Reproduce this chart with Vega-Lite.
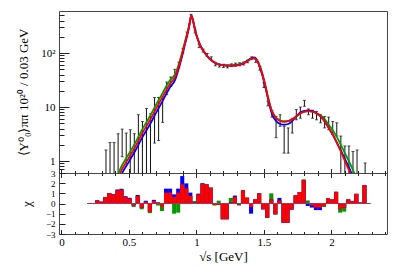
{
  "$schema": "https://vega.github.io/schema/vega-lite/v6.json",
  "padding": {"left": 17, "top": 8, "right": 5, "bottom": 2},
  "bounds": "flush",
  "spacing": 0,
  "config": {
    "font": "Liberation Serif",
    "view": {"stroke": "#444", "strokeWidth": 1},
    "axis": {"domain": false, "grid": false, "tickColor": "#222", "tickWidth": 1, "labelFont": "Liberation Serif", "labelFontSize": 11, "labelColor": "#000", "titleFont": "Liberation Serif", "titleFontSize": 13, "titleFontWeight": "normal", "titleColor": "#000", "labelOverlap": false}
  },
  "datasets": {
    "pts": [
      {"m": 0.33, "lo": 0.3, "hi": 1.6}, {"m": 0.36, "lo": 0.3, "hi": 2.2}, {"m": 0.39, "lo": 0.3, "hi": 2.2},
      {"m": 0.42, "lo": 0.3, "hi": 3.2}, {"m": 0.45, "lo": 1.2, "hi": 3.9}, {"m": 0.48, "lo": 0.9, "hi": 3.3},
      {"m": 0.51, "lo": 0.3, "hi": 3.8}, {"m": 0.54, "lo": 0.3, "hi": 3.2}, {"m": 0.57, "lo": 0.3, "hi": 7.2},
      {"m": 0.60, "lo": 0.3, "hi": 5.4}, {"m": 0.63, "lo": 0.3, "hi": 9.4}, {"m": 0.66, "lo": 0.3, "hi": 7.5},
      {"m": 0.69, "lo": 2.15, "hi": 15}, {"m": 0.72, "lo": 2.4, "hi": 15}, {"m": 0.75, "lo": 5.2, "hi": 15.5},
      {"m": 0.78, "lo": 17, "hi": 29}, {"m": 0.81, "lo": 24, "hi": 36}, {"m": 0.84, "lo": 38, "hi": 50},
      {"m": 0.87, "lo": 55, "hi": 68}, {"m": 0.90, "lo": 100, "hi": 122}, {"m": 0.93, "lo": 205, "hi": 245},
      {"m": 0.96, "lo": 460, "hi": 520}, {"m": 0.99, "lo": 235, "hi": 268}, {"m": 1.02, "lo": 126, "hi": 146},
      {"m": 1.05, "lo": 104, "hi": 118}, {"m": 1.08, "lo": 86, "hi": 98}, {"m": 1.11, "lo": 75, "hi": 85},
      {"m": 1.14, "lo": 58, "hi": 65}, {"m": 1.17, "lo": 55, "hi": 63}, {"m": 1.20, "lo": 54, "hi": 62},
      {"m": 1.23, "lo": 53, "hi": 60}, {"m": 1.26, "lo": 56, "hi": 63}, {"m": 1.29, "lo": 57, "hi": 65},
      {"m": 1.32, "lo": 58, "hi": 66}, {"m": 1.35, "lo": 60, "hi": 68}, {"m": 1.38, "lo": 66, "hi": 74},
      {"m": 1.41, "lo": 76, "hi": 85}, {"m": 1.44, "lo": 67, "hi": 76}, {"m": 1.47, "lo": 48, "hi": 56},
      {"m": 1.50, "lo": 23, "hi": 28}, {"m": 1.53, "lo": 10.5, "hi": 12.8}, {"m": 1.56, "lo": 6.5, "hi": 8.5},
      {"m": 1.59, "lo": 2.7, "hi": 6.7}, {"m": 1.62, "lo": 4.4, "hi": 7.2}, {"m": 1.65, "lo": 1.4, "hi": 4.4},
      {"m": 1.68, "lo": 1.4, "hi": 4.1}, {"m": 1.71, "lo": 3.3, "hi": 6.2}, {"m": 1.74, "lo": 5.8, "hi": 9.0},
      {"m": 1.77, "lo": 6.2, "hi": 10}, {"m": 1.80, "lo": 10.3, "hi": 13.3}, {"m": 1.83, "lo": 7.2, "hi": 9.2},
      {"m": 1.86, "lo": 6.2, "hi": 8.7}, {"m": 1.89, "lo": 5.8, "hi": 8.3}, {"m": 1.92, "lo": 5.1, "hi": 7.2},
      {"m": 1.95, "lo": 4.1, "hi": 6.7}, {"m": 1.98, "lo": 3.8, "hi": 6.5}, {"m": 2.01, "lo": 3.1, "hi": 5.4},
      {"m": 2.04, "lo": 2.9, "hi": 5.1}, {"m": 2.07, "lo": 0.3, "hi": 2.9}, {"m": 2.10, "lo": 0.3, "hi": 1.9},
      {"m": 2.13, "lo": 0.3, "hi": 1.9}, {"m": 2.16, "lo": 0.3, "hi": 1.5}, {"m": 2.19, "lo": 0.3, "hi": 1.6},
      {"m": 2.25, "lo": 0.3, "hi": 0.92}
    ],
    "curves": [
      {"m": 0.40, "r": 0.35, "g": 0.41, "b": 0.29}, {"m": 0.435, "r": 0.6, "g": 0.71, "b": 0.50},
      {"m": 0.50, "r": 1.15, "g": 1.36, "b": 0.97}, {"m": 0.55, "r": 1.9, "g": 2.24, "b": 1.6},
      {"m": 0.60, "r": 3.3, "g": 3.9, "b": 2.77}, {"m": 0.65, "r": 5.4, "g": 6.4, "b": 4.5},
      {"m": 0.70, "r": 9.2, "g": 10.9, "b": 7.7}, {"m": 0.75, "r": 15.5, "g": 18.3, "b": 13.0},
      {"m": 0.80, "r": 26, "g": 30.2, "b": 22.2}, {"m": 0.844, "r": 37, "g": 41.4, "b": 32.6},
      {"m": 0.88, "r": 70, "g": 76.3, "b": 63.7}, {"m": 0.918, "r": 164, "g": 172, "b": 154},
      {"m": 0.943, "r": 290, "g": 300, "b": 280}, {"m": 0.955, "r": 420, "g": 425, "b": 410},
      {"m": 0.962, "r": 500, "g": 500, "b": 495}, {"m": 0.975, "r": 400, "g": 400, "b": 400},
      {"m": 0.987, "r": 290, "g": 290, "b": 290}, {"m": 1.00, "r": 215, "g": 215, "b": 215},
      {"m": 1.016, "r": 164, "g": 164, "b": 164}, {"m": 1.03, "r": 135, "g": 135, "b": 135},
      {"m": 1.054, "r": 108, "g": 108, "b": 108}, {"m": 1.08, "r": 88, "g": 88, "b": 88},
      {"m": 1.10, "r": 77, "g": 77, "b": 77}, {"m": 1.13, "r": 68, "g": 68, "b": 68},
      {"m": 1.16, "r": 62, "g": 62, "b": 62}, {"m": 1.20, "r": 59.5, "g": 59.5, "b": 59.5},
      {"m": 1.23, "r": 58.5, "g": 58.8, "b": 58.5}, {"m": 1.26, "r": 58.5, "g": 59.5, "b": 58.5},
      {"m": 1.29, "r": 59, "g": 60.8, "b": 59}, {"m": 1.32, "r": 60.5, "g": 62.3, "b": 60.5},
      {"m": 1.35, "r": 64, "g": 65.9, "b": 64.5}, {"m": 1.38, "r": 71, "g": 73.1, "b": 72},
      {"m": 1.41, "r": 79, "g": 79.5, "b": 81.4}, {"m": 1.43, "r": 80.5, "g": 80.5, "b": 83},
      {"m": 1.45, "r": 72, "g": 73, "b": 73}, {"m": 1.47, "r": 56, "g": 58.2, "b": 54.3},
      {"m": 1.49, "r": 39, "g": 40.6, "b": 37.4}, {"m": 1.51, "r": 25, "g": 26, "b": 23.8},
      {"m": 1.53, "r": 15, "g": 15.6, "b": 14.3}, {"m": 1.56, "r": 8.2, "g": 8.5, "b": 7.4},
      {"m": 1.59, "r": 6.2, "g": 6.4, "b": 5.5}, {"m": 1.62, "r": 5.5, "g": 5.7, "b": 4.85},
      {"m": 1.65, "r": 5.3, "g": 5.45, "b": 4.7}, {"m": 1.68, "r": 5.5, "g": 5.5, "b": 4.85},
      {"m": 1.71, "r": 5.9, "g": 5.9, "b": 5.5}, {"m": 1.74, "r": 6.7, "g": 6.7, "b": 6.7},
      {"m": 1.77, "r": 7.6, "g": 7.6, "b": 7.9}, {"m": 1.80, "r": 8.2, "g": 8.2, "b": 8.5},
      {"m": 1.83, "r": 8.4, "g": 8.4, "b": 8.7}, {"m": 1.86, "r": 8.2, "g": 8.2, "b": 8.45},
      {"m": 1.89, "r": 7.6, "g": 7.75, "b": 7.6}, {"m": 1.92, "r": 6.7, "g": 7.0, "b": 6.7},
      {"m": 1.95, "r": 5.4, "g": 5.95, "b": 5.4}, {"m": 1.98, "r": 4.1, "g": 4.7, "b": 4.1},
      {"m": 2.01, "r": 3.1, "g": 3.7, "b": 3.1}, {"m": 2.04, "r": 2.2, "g": 2.8, "b": 2.2},
      {"m": 2.07, "r": 1.5, "g": 2.0, "b": 1.58}, {"m": 2.10, "r": 1.0, "g": 1.4, "b": 1.1},
      {"m": 2.13, "r": 0.68, "g": 0.99, "b": 0.76}, {"m": 2.16, "r": 0.45, "g": 0.68, "b": 0.52},
      {"m": 2.19, "r": 0.3, "g": 0.46, "b": 0.35}
    ],
    "chi": [
      {"x0": 0.19, "x1": 0.22, "r": 0.05, "b": 0.05, "g": 0.05},
      {"x0": 0.22, "x1": 0.25, "r": 0.05, "b": 0.05, "g": 0.05},
      {"x0": 0.25, "x1": 0.28, "r": 0.31, "b": 0.31, "g": 0.31},
      {"x0": 0.28, "x1": 0.31, "r": 0.18, "b": 0.18, "g": 0.18},
      {"x0": 0.31, "x1": 0.34, "r": 0.64, "b": 0.64, "g": 0.64},
      {"x0": 0.34, "x1": 0.37, "r": 1.03, "b": 1.03, "g": 1.03},
      {"x0": 0.37, "x1": 0.40, "r": 0.9, "b": 0.9, "g": 0.9},
      {"x0": 0.40, "x1": 0.43, "r": 1.3, "b": 1.38, "g": 1.3},
      {"x0": 0.43, "x1": 0.46, "r": 1.36, "b": 1.45, "g": 1.36},
      {"x0": 0.46, "x1": 0.49, "r": 0.64, "b": 0.72, "g": 0.64},
      {"x0": 0.49, "x1": 0.52, "r": 0.5, "b": 0.56, "g": 0.5},
      {"x0": 0.52, "x1": 0.55, "r": -0.18, "b": -0.18, "g": -0.34},
      {"x0": 0.55, "x1": 0.58, "r": 0.74, "b": 0.84, "g": 0.74},
      {"x0": 0.58, "x1": 0.61, "r": -0.41, "b": -0.41, "g": -0.57},
      {"x0": 0.61, "x1": 0.64, "r": 0.18, "b": 0.27, "g": 0.18},
      {"x0": 0.64, "x1": 0.67, "r": -0.84, "b": -0.84, "g": -0.95},
      {"x0": 0.67, "x1": 0.70, "r": 0.25, "b": 0.36, "g": 0.25},
      {"x0": 0.70, "x1": 0.73, "r": 0.11, "b": 0.11, "g": -0.2},
      {"x0": 0.73, "x1": 0.76, "r": -0.34, "b": -0.34, "g": -0.74},
      {"x0": 0.76, "x1": 0.79, "r": 1.07, "b": 1.46, "g": 1.07},
      {"x0": 0.79, "x1": 0.82, "r": 1.07, "b": 1.46, "g": 1.07},
      {"x0": 0.82, "x1": 0.85, "r": 0.64, "b": 0.9, "g": -1.0},
      {"x0": 0.85, "x1": 0.88, "r": 1.07, "b": 1.46, "g": -0.9},
      {"x0": 0.88, "x1": 0.91, "r": 1.89, "b": 2.7, "g": 1.89},
      {"x0": 0.91, "x1": 0.94, "r": 1.49, "b": 1.98, "g": 1.49},
      {"x0": 0.94, "x1": 0.97, "r": 0.74, "b": 1.07, "g": 0.74},
      {"x0": 0.97, "x1": 1.00, "r": 0.08, "b": 0.08, "g": 0.25},
      {"x0": 1.00, "x1": 1.03, "r": 0.9, "b": 0.97, "g": 0.9},
      {"x0": 1.03, "x1": 1.06, "r": 1.95, "b": 2.0, "g": 1.95},
      {"x0": 1.06, "x1": 1.09, "r": 1.89, "b": 1.89, "g": 1.89},
      {"x0": 1.09, "x1": 1.12, "r": 1.56, "b": 1.56, "g": 1.56},
      {"x0": 1.12, "x1": 1.15, "r": -0.15, "b": -0.15, "g": -0.2},
      {"x0": 1.15, "x1": 1.18, "r": -0.15, "b": -0.15, "g": 0.28},
      {"x0": 1.18, "x1": 1.21, "r": -1.55, "b": -1.55, "g": -1.55},
      {"x0": 1.21, "x1": 1.24, "r": -1.55, "b": -1.55, "g": -1.55},
      {"x0": 1.24, "x1": 1.27, "r": 0.1, "b": 0.1, "g": 0.55},
      {"x0": 1.27, "x1": 1.30, "r": 0.65, "b": 0.78, "g": 0.65},
      {"x0": 1.30, "x1": 1.33, "r": -0.1, "b": -0.1, "g": -0.2},
      {"x0": 1.33, "x1": 1.36, "r": 1.3, "b": 1.3, "g": 1.3},
      {"x0": 1.36, "x1": 1.39, "r": 0.57, "b": 0.57, "g": 0.57},
      {"x0": 1.39, "x1": 1.42, "r": -0.35, "b": -1.0, "g": -0.35},
      {"x0": 1.42, "x1": 1.45, "r": 0.4, "b": 0.4, "g": 0.4},
      {"x0": 1.45, "x1": 1.48, "r": 1.0, "b": 1.0, "g": 1.0},
      {"x0": 1.48, "x1": 1.51, "r": -0.57, "b": -0.57, "g": -0.57},
      {"x0": 1.51, "x1": 1.54, "r": -1.4, "b": -1.4, "g": -1.4},
      {"x0": 1.54, "x1": 1.57, "r": 0.4, "b": 0.4, "g": 1.0},
      {"x0": 1.57, "x1": 1.60, "r": -1.07, "b": -1.07, "g": -1.07},
      {"x0": 1.60, "x1": 1.63, "r": 0.3, "b": 0.55, "g": 0.3},
      {"x0": 1.63, "x1": 1.66, "r": -1.9, "b": -1.9, "g": -1.9},
      {"x0": 1.66, "x1": 1.69, "r": -1.9, "b": -1.9, "g": -1.9},
      {"x0": 1.69, "x1": 1.72, "r": -0.6, "b": -0.6, "g": -0.6},
      {"x0": 1.72, "x1": 1.75, "r": 0.8, "b": 0.8, "g": 0.8},
      {"x0": 1.75, "x1": 1.78, "r": 1.13, "b": 1.13, "g": 1.13},
      {"x0": 1.78, "x1": 1.81, "r": 2.3, "b": 2.3, "g": 2.38},
      {"x0": 1.81, "x1": 1.84, "r": 0.05, "b": -0.25, "g": 0.3},
      {"x0": 1.84, "x1": 1.87, "r": -0.2, "b": -0.4, "g": -0.2},
      {"x0": 1.87, "x1": 1.90, "r": -0.4, "b": -0.65, "g": -0.4},
      {"x0": 1.90, "x1": 1.93, "r": -0.4, "b": -0.65, "g": -0.4},
      {"x0": 1.93, "x1": 1.96, "r": -0.25, "b": -0.25, "g": -0.35},
      {"x0": 1.96, "x1": 1.99, "r": 0.5, "b": 0.5, "g": 0.5},
      {"x0": 1.99, "x1": 2.02, "r": 0.4, "b": 0.4, "g": 0.4},
      {"x0": 2.02, "x1": 2.05, "r": 1.15, "b": 1.15, "g": 1.15},
      {"x0": 2.05, "x1": 2.08, "r": -0.57, "b": -0.57, "g": -0.9},
      {"x0": 2.08, "x1": 2.11, "r": -0.4, "b": -0.4, "g": -0.8},
      {"x0": 2.11, "x1": 2.14, "r": 0.4, "b": 0.4, "g": 0.4},
      {"x0": 2.14, "x1": 2.17, "r": 0.25, "b": 0.25, "g": 0.25},
      {"x0": 2.17, "x1": 2.20, "r": 0.95, "b": 0.95, "g": 0.95},
      {"x0": 2.20, "x1": 2.23, "r": 0.1, "b": 0.1, "g": 0.1},
      {"x0": 2.23, "x1": 2.26, "r": 1.8, "b": 1.8, "g": 1.8},
      {"x0": 2.26, "x1": 2.29, "r": 0.05, "b": 0.05, "g": 0.05}
    ]
  },
  "vconcat": [
    {
      "width": 328,
      "height": 162,
      "encoding": {
        "x": {"field": "m", "type": "quantitative", "scale": {"domain": [-0.018, 2.412], "nice": false, "zero": false},
          "axis": {"orient": "bottom", "values": [0,0.1,0.2,0.3,0.4,0.5,0.6,0.7,0.8,0.9,1,1.1,1.2,1.3,1.4,1.5,1.6,1.7,1.8,1.9,2,2.1,2.2,2.3,2.4], "labels": false, "title": null,
            "tickSize": {"condition": {"test": "abs(datum.value*2-round(datum.value*2))<0.001", "value": -4.5}, "value": -2.5}}}
      },
      "layer": [
        {
          "data": {"name": "pts"},
          "mark": {"type": "rule", "clip": true, "color": "#111", "strokeWidth": 1},
          "encoding": {
            "y": {"field": "lo", "type": "quantitative", "scale": {"type": "log", "domain": [0.6, 600], "nice": false},
              "axis": {"values": [0.6,0.7,0.8,0.9,1,2,3,4,5,6,7,8,9,10,20,30,40,50,60,70,80,90,100,200,300,400,500],
                "labelExpr": "datum.value == 100 ? '10²' : datum.value == 10 ? '10' : datum.value == 1 ? '1' : ''",
                "tickSize": {"condition": {"test": "datum.value == 1 || datum.value == 10 || datum.value == 100", "value": -10}, "value": -5},
                "labelPadding": 14, "title": "⟨Y⁰₀⟩ππ  10²⁰ / 0.03 GeV", "titlePadding": 10}},
            "y2": {"field": "hi"}
          }
        },
        {
          "data": {"name": "pts"},
          "mark": {"type": "tick", "orient": "horizontal", "clip": true, "color": "#111", "size": 3, "thickness": 1},
          "encoding": {"y": {"field": "hi", "type": "quantitative"}}
        },
        {
          "data": {"name": "pts"},
          "mark": {"type": "tick", "orient": "horizontal", "clip": true, "color": "#111", "size": 3, "thickness": 1},
          "encoding": {"y": {"field": "lo", "type": "quantitative"}}
        },
        {
          "data": {"name": "curves"},
          "mark": {"type": "line", "clip": true, "color": "#00a000", "strokeWidth": 1.8, "interpolate": "monotone"},
          "encoding": {"y": {"field": "g", "type": "quantitative"}}
        },
        {
          "data": {"name": "curves"},
          "mark": {"type": "line", "clip": true, "color": "#0000ff", "strokeWidth": 1.8, "interpolate": "monotone"},
          "encoding": {"y": {"field": "b", "type": "quantitative"}}
        },
        {
          "data": {"name": "curves"},
          "mark": {"type": "line", "clip": true, "color": "#ff0000", "strokeWidth": 1.8, "interpolate": "monotone"},
          "encoding": {"y": {"field": "r", "type": "quantitative"}}
        }
      ]
    },
    {
      "width": 328,
      "height": 61,
      "data": {"name": "chi"},
      "resolve": {"scale": {"x": "independent"}, "axis": {"x": "independent"}},
      "layer": [
        {
          "mark": {"type": "bar", "clip": true, "color": "#009a00"},
          "encoding": {
            "x": {"field": "x0", "type": "quantitative", "scale": {"domain": [-0.018, 2.412], "nice": false, "zero": false},
              "axis": {"orient": "top", "values": [0,0.1,0.2,0.3,0.4,0.5,0.6,0.7,0.8,0.9,1,1.1,1.2,1.3,1.4,1.5,1.6,1.7,1.8,1.9,2,2.1,2.2,2.3,2.4], "labels": false, "title": null,
                "tickSize": {"condition": {"test": "abs(datum.value*2-round(datum.value*2))<0.001", "value": -4.5}, "value": -2.5}}},
            "x2": {"field": "x1"},
            "y": {"field": "g", "type": "quantitative", "scale": {"domain": [-3, 3], "nice": false},
              "axis": {"values": [-3,-2,-1,0,1,2,3], "tickSize": -6, "labelPadding": 10, "labelFontSize": 9, "title": "χ", "titlePadding": 12}},
            "y2": {"datum": 0}
          }
        },
        {
          "mark": {"type": "bar", "clip": true, "color": "#0000ff"},
          "encoding": {
            "x": {"field": "x0", "type": "quantitative", "scale": {"domain": [-0.018, 2.412], "nice": false, "zero": false}, "axis": null},
            "x2": {"field": "x1"},
            "y": {"field": "b", "type": "quantitative",
              "axis": {"values": [-3,-2,-1,0,1,2,3], "tickSize": -6, "labelPadding": 10, "labelFontSize": 9, "title": "χ", "titlePadding": 12}},
            "y2": {"datum": 0}
          }
        },
        {
          "mark": {"type": "bar", "clip": true, "color": "#ff0000"},
          "encoding": {
            "x": {"field": "x0", "type": "quantitative", "scale": {"domain": [-0.018, 2.412], "nice": false, "zero": false},
              "axis": {"orient": "bottom", "values": [0,0.1,0.2,0.3,0.4,0.5,0.6,0.7,0.8,0.9,1,1.1,1.2,1.3,1.4,1.5,1.6,1.7,1.8,1.9,2,2.1,2.2,2.3,2.4],
                "labelExpr": "abs(datum.value*2-round(datum.value*2))<0.001 ? format(datum.value, '~g') : ''",
                "tickSize": {"condition": {"test": "abs(datum.value*2-round(datum.value*2))<0.001", "value": -4.5}, "value": -2.5},
                "labelPadding": 7, "title": "√s [GeV]", "titlePadding": 1}},
            "x2": {"field": "x1"},
            "y": {"field": "r", "type": "quantitative",
              "axis": {"values": [-3,-2,-1,0,1,2,3], "tickSize": -6, "labelPadding": 10, "labelFontSize": 9, "title": "χ", "titlePadding": 12}},
            "y2": {"datum": 0}
          }
        }
      ]
    }
  ]
}
